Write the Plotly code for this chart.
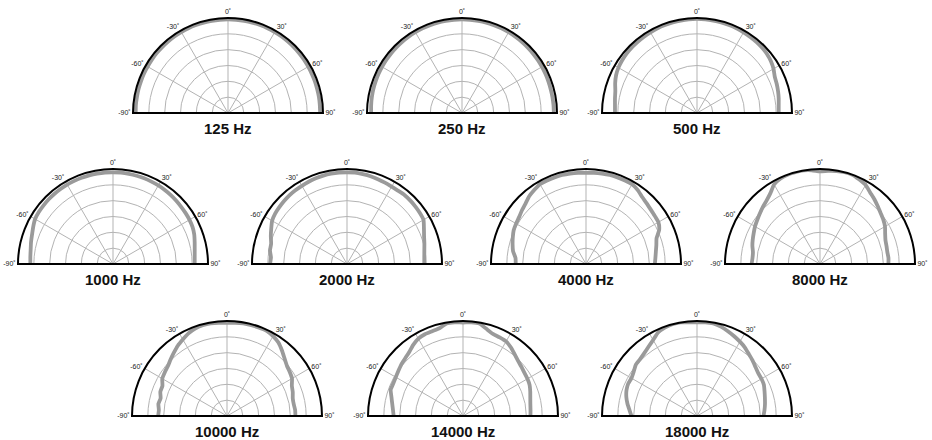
import plotly.graph_objects as go

# Angles (degrees, 0 = on-axis, negative = left) and levels in dB (0 = outer ring)
ANGLES = list(range(-90, 91, 5))

FREQ_LABELS = ["125 Hz", "250 Hz", "500 Hz", "1000 Hz", "2000 Hz", "4000 Hz",
               "8000 Hz", "10000 Hz", "14000 Hz", "18000 Hz"]

DB_125 = [-0.85, -0.8, -0.8, -0.75, -0.75, -0.7, -0.7, -0.65, -0.6, -0.6, -0.55, -0.5, -0.5,
          -0.45, -0.45, -0.45, -0.45, -0.45, -0.45, -0.45, -0.45, -0.45, -0.45, -0.45, -0.5,
          -0.5, -0.55, -0.6, -0.65, -0.7, -0.75, -0.8, -0.8, -0.85, -0.85, -0.9, -0.9]
DB_250 = [-1.3, -1.2, -1.1, -1.0, -0.95, -0.9, -0.85, -0.8, -0.75, -0.7, -0.65, -0.6, -0.55,
          -0.5, -0.5, -0.45, -0.45, -0.45, -0.45, -0.45, -0.45, -0.45, -0.5, -0.5, -0.55,
          -0.6, -0.65, -0.7, -0.75, -0.8, -0.85, -0.9, -0.95, -1.0, -1.0, -1.0, -1.0]
DB_500 = [-4.1, -4.0, -3.7, -3.3, -2.5, -1.8, -1.35, -1.1, -0.9, -0.8, -0.75, -0.65, -0.6,
          -0.5, -0.45, -0.4, -0.35, -0.3, -0.3, -0.3, -0.35, -0.4, -0.45, -0.5, -0.6,
          -0.7, -0.75, -0.9, -1.1, -1.5, -2.1, -2.9, -3.2, -3.5, -3.8, -4.1, -4.2]
DB_1000 = [-3.9, -3.8, -3.6, -3.2, -2.8, -2.2, -1.6, -1.4, -1.3, -1.2, -1.15, -1.1, -1.05,
           -1.05, -1.0, -1.0, -1.0, -1.0, -1.05, -1.05, -1.1, -1.15, -1.2, -1.3, -1.35,
           -1.5, -1.6, -1.75, -1.9, -2.0, -2.1, -2.3, -2.7, -3.3, -3.8, -4.1, -4.2]
DB_2000 = [-5.7, -5.9, -5.3, -5.2, -4.4, -3.6, -2.7, -2.3, -2.1, -1.9, -1.7, -1.6, -1.5,
           -1.35, -1.2, -1.1, -1.05, -1.05, -1.05, -1.05, -1.2, -1.3, -1.5, -1.65, -1.8,
           -1.8, -1.65, -1.7, -1.8, -1.9, -2.1, -3.2, -4.1, -4.7, -5.2, -5.5, -5.6]
DB_4000 = [-7.8, -7.65, -6.6, -6.0, -5.4, -4.8, -4.5, -4.2, -3.6, -3.0, -2.1, -1.5, -0.9,
           -0.9, -0.9, -0.9, -1.0, -1.1, -1.2, -1.1, -1.0, -0.9, -0.9, -0.9, -0.9,
           -1.5, -2.4, -2.9, -3.3, -3.5, -3.6, -4.5, -6.3, -7.0, -7.6, -8.0, -8.25]
DB_8000 = [-8.4, -8.6, -8.5, -7.9, -7.4, -6.9, -6.3, -5.8, -5.2, -4.5, -3.8, -2.7, -1.0,
           -0.3, 0.0, 0.0, 0.0, -0.3, -0.75, -0.5, -0.2, 0.0, 0.0, -0.6, -1.2,
           -2.4, -3.3, -4.2, -5.0, -5.6, -6.3, -7.3, -8.0, -8.25, -8.4, -8.3, -8.4]
DB_10000 = [-8.25, -8.4, -8.0, -8.3, -7.6, -7.5, -6.4, -6.0, -5.6, -4.8, -3.9, -2.9, -2.1,
            -1.2, -0.6, -0.35, -0.3, -0.45, -0.6, -0.45, -0.3, -0.3, -0.3, -0.3, -0.9,
            -1.7, -3.0, -4.3, -5.3, -5.8, -6.3, -7.4, -7.9, -8.5, -8.6, -8.4, -8.4]
DB_14000 = [-8.1, -7.8, -7.3, -6.6, -5.7, -5.7, -5.5, -5.1, -4.6, -4.2, -3.6, -2.6, -1.8,
            -1.5, -1.5, -1.3, -0.3, -0.3, -0.5, -0.3, -0.3, -1.5, -2.4, -2.6, -2.8,
            -3.6, -4.6, -5.4, -5.9, -6.3, -6.5, -6.8, -7.4, -8.0, -8.4, -8.6, -8.7]
DB_18000 = [-9.3, -8.6, -7.7, -6.9, -6.3, -6.0, -6.1, -5.6, -4.8, -4.6, -4.1, -3.3, -2.3,
            -0.9, -0.3, 0.0, 0.0, -0.3, -0.45, -0.3, -0.3, -0.8, -1.5, -2.2, -2.9,
            -3.6, -4.5, -5.2, -5.9, -6.4, -6.5, -6.7, -7.3, -7.8, -8.2, -8.6, -9.0]

SERIES = [DB_125, DB_250, DB_500, DB_1000, DB_2000, DB_4000,
          DB_8000, DB_10000, DB_14000, DB_18000]

TICK_ANGLES = [-90, -60, -30, 0, 30, 60, 90]
TICK_TEXT = ["-90˚", "-60˚", "-30˚", "0˚", "30˚", "60˚", "90˚"]
RING_DB = [-25, -20, -15, -10, -5, 0]

# layout (pixel centres of each half-polar and radius)
W, H = 932, 440
R = 95
CENTERS = [(228, 113), (462, 113), (697, 113),
           (113, 264), (347, 264), (586, 264), (820, 264),
           (227, 416), (463, 416), (697, 416)]

FONT = "Liberation Sans, Arial, Helvetica, sans-serif"
GRID = "#b3b3b3"
LINE = "#9a9a9a"


def to_polar_theta(a):
    # on-axis (0) at top, negative angles on the left
    return 90 - a


fig = go.Figure()
layout_updates = {}
annotations = []
for i, (label, vals, (cx, cy)) in enumerate(zip(FREQ_LABELS, SERIES, CENTERS)):
    pid = "polar" if i == 0 else f"polar{i + 1}"
    fig.add_trace(go.Scatterpolar(
        r=vals, theta=[to_polar_theta(a) for a in ANGLES], mode="lines",
        line=dict(color=LINE, width=3.8, shape="spline", smoothing=0.5),
        subplot=pid, showlegend=False, hoverinfo="skip"))
    layout_updates[pid] = dict(
        domain=dict(x=[(cx - R) / W, (cx + R) / W],
                    y=[1 - cy / H, 1 - (cy - R) / H]),
        sector=[0, 180],
        bgcolor="white",
        radialaxis=dict(range=[-30, 0], tickvals=RING_DB, showticklabels=False,
                        ticks="", showline=False, gridcolor=GRID, gridwidth=1),
        angularaxis=dict(tickmode="array",
                         tickvals=[to_polar_theta(a) for a in TICK_ANGLES],
                         ticktext=TICK_TEXT, ticks="", showgrid=True,
                         tickfont=dict(family=FONT, size=7, color="#222222"),
                         showline=True, linecolor="#000000", linewidth=2,
                         gridcolor=GRID, gridwidth=1),
    )
    annotations.append(dict(
        text=label, x=cx / W, y=1 - (cy + 15) / H, xref="paper", yref="paper",
        xanchor="center", yanchor="middle", showarrow=False,
        font=dict(family=FONT, size=15, color="#111111", weight="bold")))

fig.update_layout(**layout_updates)
fig.update_layout(width=W, height=H, margin=dict(l=0, r=0, t=0, b=0),
                  paper_bgcolor="white", annotations=annotations)
fig.write_html("out.html", config={"displayModeBar": False},
               post_script="document.body.style.margin='0px';document.body.style.overflow='hidden';")
